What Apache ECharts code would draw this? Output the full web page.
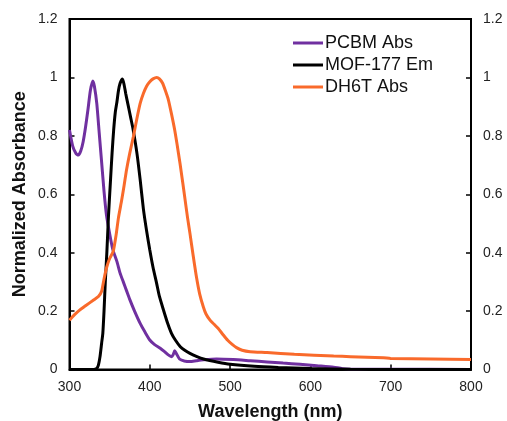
<!DOCTYPE html>
<html><head><meta charset="utf-8">
<script src="https://cdn.jsdelivr.net/npm/echarts@6/dist/echarts.min.js"></script>
<style>html,body{margin:0;padding:0;background:#fff}#c{width:507px;height:421px}</style>
</head><body><div id="c"></div>
<script>
const xTicks = [300, 400, 500, 600, 700, 800];
const yTicks = [0, 0.2, 0.4, 0.6, 0.8, 1, 1.2];
const seriesNames = ['PCBM Abs', 'MOF-177 Em', 'DH6T Abs'];
const pcbmAbs = [[300,0.82],[304,0.765],[308,0.74],[311,0.734],[314,0.748],[317,0.78],[320,0.83],[323,0.89],[326,0.955],[329,0.988],[331,0.97],[334,0.91],[337,0.81],[340,0.71],[343,0.61],[346,0.53],[350,0.465],[354,0.41],[359,0.37],[363,0.33],[367,0.3],[371,0.27],[375,0.24],[381,0.2],[388,0.158],[394,0.128],[400,0.101],[406,0.085],[413,0.073],[418,0.062],[423,0.05],[427,0.044],[429,0.05],[431,0.064],[433,0.055],[437,0.036],[443,0.029],[450,0.027],[458,0.03],[467,0.033],[483,0.036],[504,0.034],[525,0.03],[546,0.026],[566,0.022],[587,0.018],[608,0.013],[629,0.008],[640,0.003],[660,0.001],[700,0.001],[800,0.0]];
const mofEm = [[300,0],[330,0],[334,0.004],[336,0.015],[338,0.044],[340,0.09],[341.5,0.124],[343,0.2],[344.5,0.295],[346.5,0.4],[348.5,0.523],[351,0.645],[353,0.74],[355,0.82],[357,0.88],[359,0.915],[361,0.955],[363,0.98],[366,0.995],[368,0.975],[370,0.945],[373,0.905],[376,0.865],[379,0.825],[384,0.74],[388,0.65],[392,0.55],[396,0.475],[400,0.409],[404,0.35],[408.5,0.295],[412,0.25],[417,0.204],[422,0.16],[427,0.124],[432,0.1],[438,0.078],[444,0.065],[450,0.055],[458,0.045],[467,0.036],[485,0.025],[500,0.018],[530,0.011],[560,0.007],[600,0.003],[650,0.001],[700,0],[800,0]];
const dh6tAbs = [[300,0.169],[306,0.187],[313,0.204],[320,0.218],[330,0.238],[336,0.25],[340,0.268],[343,0.31],[346.3,0.35],[350,0.38],[354.5,0.405],[358,0.46],[361,0.52],[365,0.58],[368,0.63],[371,0.683],[375,0.74],[379.5,0.797],[384,0.86],[388,0.911],[392,0.945],[396,0.97],[400,0.985],[404,0.995],[408.6,1.0],[412,0.995],[416,0.98],[420,0.95],[423,0.925],[427,0.875],[431,0.82],[434,0.77],[437.6,0.706],[441,0.64],[444,0.58],[447,0.52],[450,0.466],[454,0.39],[458,0.318],[462,0.26],[466.6,0.215],[470,0.19],[475,0.169],[480,0.155],[485,0.141],[491,0.12],[497,0.1],[503,0.085],[508,0.075],[515,0.066],[525,0.061],[546,0.058],[580,0.052],[629,0.046],[650,0.044],[691,0.04],[700,0.038],[750,0.036],[800,0.034]];
const colors = ['#7030A0', '#000000', '#F96A2B'];
const font = 'Liberation Sans, Arial, sans-serif';
const chart = echarts.init(document.getElementById('c'));
const yAxisBase = {
  type: 'value', min: 0, max: 1.2, interval: 0.2,
  axisLine: {show: true, lineStyle: {color: '#000', width: 2}},
  axisTick: {show: true, inside: true, length: 5, lineStyle: {color: '#000', width: 1.5}},
  splitLine: {show: false},
  axisLabel: {color: '#222', fontSize: 14, fontFamily: font, margin: 12}
};
chart.setOption({
  animation: false,
  grid: {left: 69.5, right: 36, top: 19, bottom: 51.5, outerBoundsMode: 'none', containLabel: false,
    show: true, borderColor: '#000', borderWidth: 2, backgroundColor: 'transparent'},
  legend: {
    orient: 'vertical', left: 288, top: 29, itemGap: 4,
    icon: 'rect', itemWidth: 30, itemHeight: 3,
    textStyle: {fontSize: 18, fontFamily: font, color: '#111', padding: [0, 0, 0, -3]},
    data: seriesNames
  },
  xAxis: {
    type: 'value', min: 300, max: 800, interval: 100,
    name: 'Wavelength (nm)', nameLocation: 'middle', nameGap: 34, nameMoveOverlap: false,
    nameTextStyle: {fontSize: 18, fontWeight: 'bold', fontFamily: font, color: '#111'},
    axisLine: {show: true, lineStyle: {color: '#000', width: 2}},
    axisTick: {show: true, inside: true, length: 5, lineStyle: {color: '#000', width: 1.5}},
    splitLine: {show: false},
    axisLabel: {color: '#222', fontSize: 14, fontFamily: font, margin: 11}
  },
  yAxis: [
    Object.assign({}, yAxisBase, {position: 'left', name: 'Normalized Absorbance', nameLocation: 'middle', nameGap: 40, nameMoveOverlap: false,
      nameTextStyle: {fontSize: 18, fontWeight: 'bold', fontFamily: font, color: '#111'}}),
    Object.assign({}, yAxisBase, {position: 'right'})
  ],
  series: [
    {name: seriesNames[0], type: 'line', data: pcbmAbs, showSymbol: false, smooth: 0.2, lineStyle: {width: 3, color: colors[0]}, itemStyle: {color: colors[0]}},
    {name: seriesNames[1], type: 'line', data: mofEm, showSymbol: false, smooth: 0.2, lineStyle: {width: 3, color: colors[1]}, itemStyle: {color: colors[1]}},
    {name: seriesNames[2], type: 'line', data: dh6tAbs, showSymbol: false, smooth: 0.2, lineStyle: {width: 3, color: colors[2]}, itemStyle: {color: colors[2]}}
  ]
});
</script></body></html>
